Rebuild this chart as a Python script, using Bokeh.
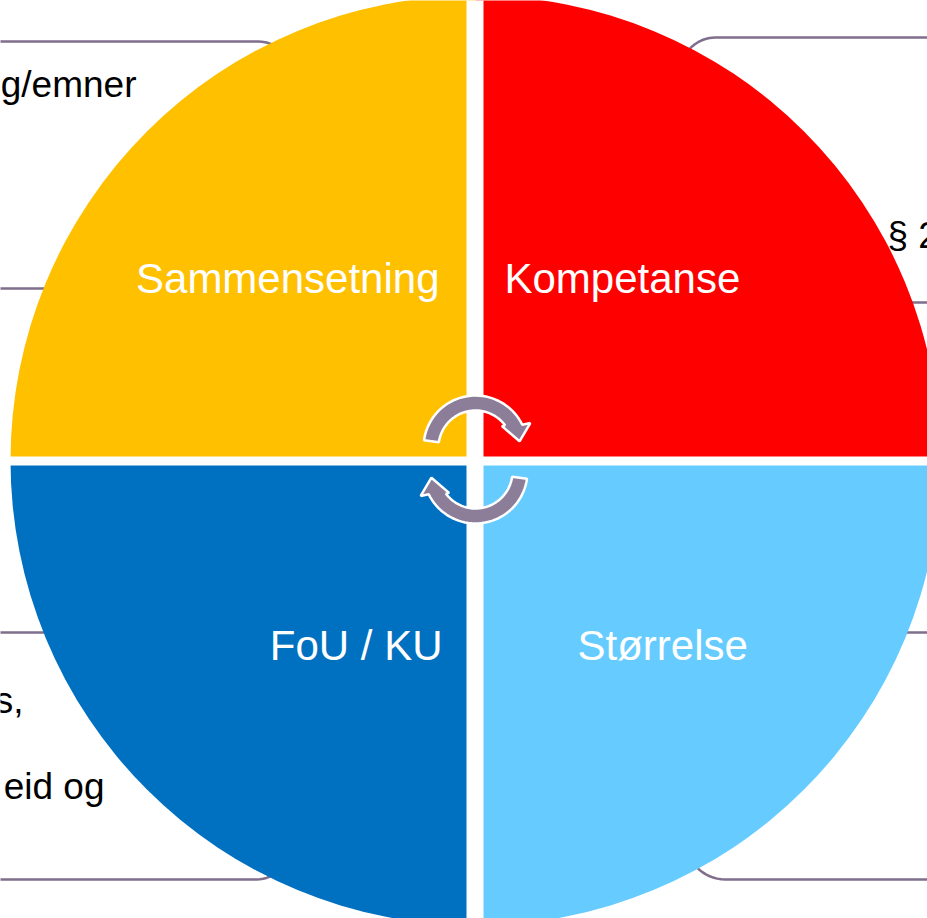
import numpy as np
from bokeh.plotting import figure
from bokeh.models import Range1d, ColumnDataSource
from bokeh.core.properties import value
from bokeh.embed import file_html
from bokeh.resources import INLINE

H = 918  # page height, used to flip page y (down) into plot y (up)

# ---- circle quadrants ----
quad_labels = ["Kompetanse", "Sammensetning", "FoU / KU", "Størrelse"]
quad_colors = ["#FF0000", "#FFC000", "#0070C0", "#66CCFF"]
quad_start_deg = [0, 90, 180, 270]
quad_end_deg = [90, 180, 270, 360]
label_x = [504, 439, 442, 577]
label_y = [278, 278, 645, 645]
label_align = ["left", "right", "right", "left"]

# ---- background boxes (partly hidden) ----
box_x0 = [-400, 680, -400, 685]
box_x1 = [290, 1400, 288, 1400]
box_y0 = [41, 37, 632, 632]
box_y1 = [288, 302, 879, 879]
box_r = [32, 35, 32, 40]
box_texts = ["g/emner", "§ 2", "s,", "eid og"]
box_text_x = [136, 887, 23, 104]
box_text_y = [84, 235, 700, 786]
box_text_align = ["right", "left", "right", "right"]

CX, CY, R = 475, 460, 465
FONT = value("Liberation Sans")

p = figure(width=927, height=918, x_range=Range1d(0, 927), y_range=Range1d(0, 918),
           output_backend="svg", toolbar_location=None, min_border=0,
           x_axis_location=None, y_axis_location=None)
p.grid.visible = False
p.outline_line_color = None
p.background_fill_color = "white"
p.border_fill_color = "white"


def rounded_rect(x0, x1, y0, y1, r, n=16):
    xs, ys = [], []
    corners = [(x1 - r, y0 + r, -90, 0), (x1 - r, y1 - r, 0, 90),
               (x0 + r, y1 - r, 90, 180), (x0 + r, y0 + r, 180, 270)]
    for cx, cy, a0, a1 in corners:
        t = np.radians(np.linspace(a0, a1, n))
        xs.extend(cx + r * np.cos(t))
        ys.extend(H - (cy + r * np.sin(t)))
    return xs, ys


bx, by = [], []
for i in range(len(box_x0)):
    xs, ys = rounded_rect(box_x0[i], box_x1[i], box_y0[i], box_y1[i], box_r[i])
    bx.append(xs)
    by.append(ys)
p.patches(xs=bx, ys=by, fill_color="white", line_color="#7F6E8C", line_width=2.5)

p.text(x=box_text_x, y=[H - v for v in box_text_y], text=box_texts,
       text_align=box_text_align, text_baseline="alphabetic",
       text_font=FONT, text_font_size="37px", text_color="black")

# quadrants
qsrc = ColumnDataSource(dict(
    start=np.radians(quad_start_deg), end=np.radians(quad_end_deg), color=quad_colors))
p.wedge(x=CX, y=H - CY, radius=R, start_angle="start", end_angle="end",
        fill_color="color", line_color=None, source=qsrc)

# white cross separating quadrants
p.quad(left=[466, CX - R - 10], right=[483, CX + R + 10],
       bottom=[H - (CY + R + 10), H - 465], top=[H - (CY - R - 10), H - 456],
       fill_color="white", line_color=None)

p.text(x=label_x, y=[H - v for v in label_y], text=quad_labels,
       text_align=label_align, text_baseline="alphabetic",
       text_font=FONT, text_font_size="42px", text_color="white")


# circular arrows
def polar(cx, cy, r, a):
    a = np.radians(a)
    return cx + r * np.cos(a), cy + r * np.sin(a)


def arrow(cx, cy, r_in, r_out, a_start, a_end_out, a_end_in):
    xs, ys = [], []
    t = np.radians(np.linspace(a_start, a_end_out, 40))
    xs.extend(cx + r_out * np.cos(t)); ys.extend(cy + r_out * np.sin(t))
    r_mid = (r_in + r_out) / 2
    for r, a in [(r_out + 8, a_end_out - 2), (r_mid, a_end_out - 18), (r_in - 3, a_end_in + 2)]:
        px, py = polar(cx, cy, r, a)
        xs.append(px); ys.append(py)
    t = np.radians(np.linspace(a_end_in, a_start, 40))
    xs.extend(cx + r_in * np.cos(t)); ys.extend(cy + r_in * np.sin(t))
    return np.array(xs), np.array(ys)


ax, ay = arrow(475, H - 447, 37, 52, 172, 26, 37)
# second arrow: rotated 180 degrees about the centre of the cross
pivot_x, pivot_y = 475, H - 459
ax2, ay2 = 2 * pivot_x - ax, 2 * pivot_y - ay
p.patches(xs=[list(ax), list(ax2)], ys=[list(ay), list(ay2)],
          fill_color="#8C7E99", line_color="white", line_width=2.5)

open("out.html", "w").write(file_html(p, INLINE))
